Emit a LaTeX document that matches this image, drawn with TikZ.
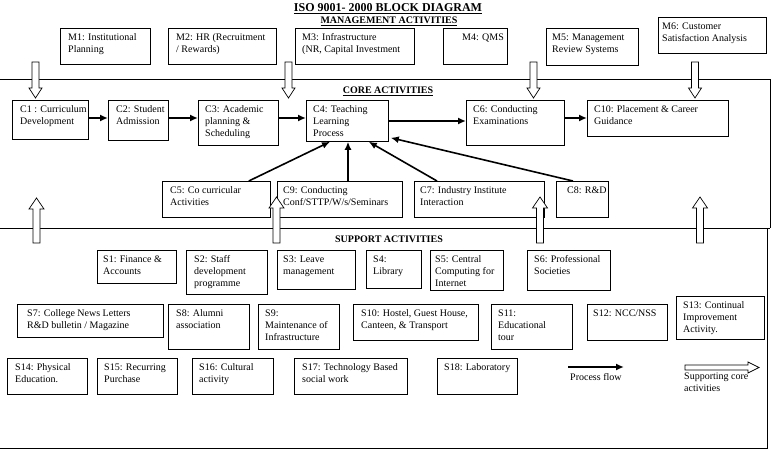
\documentclass[tikz,border=0pt]{standalone}
\usepackage{fontspec}
\setmainfont{Liberation Serif}
\usetikzlibrary{arrows.meta}

% box: name, x1, y1, x2, y2, text indent, text
\newcommand{\actbox}[7]{%
  \node[blk, minimum width={(#4-#2)*1pt}, minimum height={(#5-#3)*1pt}] (#1) at (#2,#3) {};
  \node[txt] (#1t) at ([shift={(#6,5.5)}]#1.north west) {#7};
}
% hollow arrows: centre x, top, tip / centre x, tip, bottom
\newcommand{\downarr}[3]{%
  \draw[hollow] (#1-3.5,#2) -- (#1+3.5,#2) -- (#1+3.5,#3-10) -- (#1+6.5,#3-10)
    -- (#1,#3) -- (#1-6.5,#3-10) -- (#1-3.5,#3-10) -- cycle;
}
\newcommand{\uparr}[3]{%
  \draw[hollow] (#1-3.5,#3) -- (#1-3.5,#2+11) -- (#1-7.5,#2+11) -- (#1,#2)
    -- (#1+7.5,#2+11) -- (#1+3.5,#2+11) -- (#1+3.5,#3) -- cycle;
}

\begin{document}
\begin{tikzpicture}[x=1pt,y=-1pt,
  blk/.style={draw, line width=0.8pt, anchor=north west, inner sep=0pt},
  txt/.style={anchor=north west, inner sep=0pt, align=left, font=\fontsize{10}{12}\selectfont},
  head/.style={anchor=base, inner sep=0pt, font=\bfseries\fontsize{10}{12}\selectfont},
  frame/.style={line width=1pt},
  flow/.style={line width=1.6pt, -{Latex[length=8pt,width=7pt]}},
  hollow/.style={draw, fill=white, line width=0.7pt}]

\useasboundingbox (0,0) rectangle (780,460);

% headings
\node[head, font=\bfseries\fontsize{12}{14}\selectfont] (title) at (388,12) {\underline{ISO 9001- 2000 BLOCK DIAGRAM}};
\node[head] (mgmt) at (389,24) {\underline{MANAGEMENT ACTIVITIES}};
\node[head] (core) at (388,94) {\underline{CORE ACTIVITIES}};
\node[head] (supp) at (389,242) {SUPPORT ACTIVITIES};

% frames
\draw[frame] (0,80) -- (770,80) -- (770,228);
\draw[frame] (0,228) -- (770,228);
\draw[frame] (767,228) -- (767,448) -- (0,448);

% management
\actbox{M1}{60}{28}{150}{64}{8}{M1: Institutional\\Planning}
\actbox{M2}{168}{28}{276}{64}{8}{M2: HR (Recruitment\\/ Rewards)}
\actbox{M3}{295}{28}{414}{64}{7}{M3: Infrastructure\\(NR, Capital Investment}
\actbox{M4}{443}{28}{507}{64}{19}{M4: QMS}
\actbox{M5}{546}{28}{638}{65}{6}{M5: Management\\Review Systems}
\actbox{M6}{658}{17}{766}{53}{4}{M6: Customer\\Satisfaction Analysis}

% core
\actbox{C1}{12}{100}{88}{139}{8}{C1 : Curriculum\\Development}
\actbox{C2}{108}{100}{168}{140}{8}{C2: Student\\Admission}
\actbox{C3}{198}{100}{278}{145}{7}{C3: Academic\\planning \&\\Scheduling}
\actbox{C4}{306}{100}{388}{141}{7}{C4: Teaching\\Learning\\Process}
\actbox{C6}{466}{100}{564}{145}{7}{C6: Conducting\\Examinations}
\actbox{C10}{587}{100}{728}{136}{7}{C10: Placement \& Career\\Guidance}
\actbox{C5}{162}{181}{270}{217}{8}{C5: Co curricular\\Activities}
\actbox{C9}{277}{181}{402}{217}{6}{C9: Conducting\\Conf/STTP/W/s/Seminars}
\actbox{C7}{414}{181}{544}{217}{6}{C7: Industry Institute\\Interaction}
\actbox{C8}{556}{181}{608}{217}{11}{C8: R\&D}

% support
\actbox{S1}{97}{250}{176}{283}{6}{S1: Finance \&\\Accounts}
\actbox{S2}{186}{250}{267}{294}{8}{S2: Staff\\development\\programme}
\actbox{S3}{277}{250}{355}{289}{6}{S3: Leave\\management}
\actbox{S4}{366}{250}{421}{288}{7}{S4:\\Library}
\actbox{S5}{430}{250}{503}{290}{5}{S5: Central\\Computing for\\Internet}
\actbox{S6}{527}{250}{610}{290}{7}{S6: Professional\\Societies}
\actbox{S7}{17}{304}{163}{337}{10}{S7: College News Letters\\R\&D bulletin / Magazine}
\actbox{S8}{168}{304}{249}{349}{8}{S8: Alumni\\association}
\actbox{S9}{258}{304}{339}{349}{7}{S9:\\Maintenance of\\Infrastructure}
\actbox{S10}{353}{304}{478}{340}{8}{S10: Hostel, Guest House,\\Canteen, \& Transport}
\actbox{S11}{491}{304}{572}{349}{7}{S11:\\Educational\\tour}
\actbox{S12}{587}{304}{667}{340}{6}{S12: NCC/NSS}
\actbox{S13}{676}{296}{764}{339}{7}{S13: Continual\\Improvement\\Activity.}
\actbox{S14}{7}{358}{87}{394}{8}{S14: Physical\\Education.}
\actbox{S15}{97}{358}{177}{394}{7}{S15: Recurring\\Purchase}
\actbox{S16}{192}{358}{273}{394}{7}{S16: Cultural\\activity}
\actbox{S17}{294}{358}{407}{394}{8}{S17: Technology Based\\social work}
\actbox{S18}{437}{358}{517}{394}{7}{S18: Laboratory}

% process flow
\draw[flow] (C1.east |- 0,118) -- (C2.west |- 0,118);
\draw[flow] (C2.east |- 0,118) -- (C3.west |- 0,118);
\draw[flow] (C3.east |- 0,118) -- (C4.west |- 0,118);
\draw[flow] (C4.east |- 0,121) -- (C6.west |- 0,121);
\draw[flow] (C6.east |- 0,118) -- (C10.west |- 0,118);
\draw[flow] ([xshift=-22pt]C5.north east) -- ([xshift=24pt]C4.south west);
\draw[flow] ([xshift=71pt]C9.north west) -- ([xshift=71pt]C9.north west |- C4.south);
\draw[flow] ([xshift=23pt]C7.north west) -- ([xshift=-20pt]C4.south east);
\draw[flow] ([xshift=17pt]C8.north west) -- ([xshift=2pt,yshift=4pt]C4.south east);

% supporting arrows
\downarr{35.5}{62}{98}
\downarr{288.5}{62}{98}
\downarr{533.5}{62}{98}
\downarr{695}{62}{98}
\uparr{36.5}{198}{243}
\uparr{276.5}{197}{243}
\uparr{540}{197}{243}
\uparr{700}{197}{243}

% legend
\coordinate (pfa) at (568,367);
\coordinate (pfb) at (624,367);
\draw[flow] (pfa) -- (pfb);
\node[txt] (pflbl) at (570,373) {Process flow};
\draw[hollow] (685,365) -- (748,365) -- (748,362) -- (759,367.5) -- (748,373)
  -- (748,370) -- (685,370) -- cycle;
\node[txt] (sclbl) at (684,373) {Supporting core\\activities};

\end{tikzpicture}
\end{document}
